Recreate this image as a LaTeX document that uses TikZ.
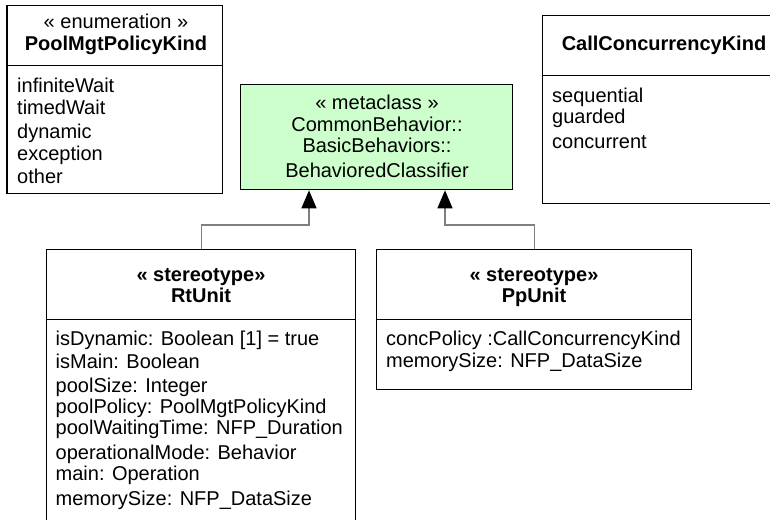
\documentclass[tikz,border=0pt]{standalone}
\usepackage{fontspec}
\setmainfont{Liberation Sans}
\usetikzlibrary{arrows.meta}
\definecolor{metagreen}{HTML}{CCFFCC}
\definecolor{conngray}{HTML}{7F7F7F}
\begin{document}
\begin{tikzpicture}[x=1pt,y=-1pt,
  umlbox/.style={draw=black, line width=1.3pt, inner sep=0pt, anchor=north west},
  divider/.style={draw=black, line width=1pt},
  txt/.style={font=\fontsize{20}{23}\selectfont, inner sep=0pt},
  attr/.style={txt, anchor=base west},
  head/.style={txt, anchor=base},
  headb/.style={anchor=base, inner sep=0pt, font=\fontsize{20}{23}\selectfont\bfseries},
  conn/.style={draw=conngray, line width=1.3pt},
  gen/.style={-{Triangle[width=15pt,length=18pt,black]}}]
\useasboundingbox (0,0) rectangle (770,519);
\fill[white] (0,0) rectangle (770,519);

% boxes
\node[umlbox, minimum width=215.6pt, minimum height=188pt] (pool) at (6.4,4.7) {};
\node[umlbox, fill=metagreen, minimum width=272pt, minimum height=105pt] (meta) at (240,84) {};
\node[umlbox, minimum width=244pt, minimum height=188pt] (call) at (542,15) {};
\node[umlbox, minimum width=309pt, minimum height=300pt] (rt) at (46,249) {};
\node[umlbox, minimum width=315pt, minimum height=140pt] (pp) at (376,249) {};

% dividers
\draw[divider] (pool.west |- 0,65) -- (pool.east |- 0,65);
\draw[divider] (call.west |- 0,75) -- (call.east |- 0,75);
\draw[divider] (rt.west |- 0,319) -- (rt.east |- 0,319);
\draw[divider] (pp.west |- 0,319) -- (pp.east |- 0,319);

% PoolMgtPolicyKind
\node[head] (poolst) at (116,29) {« enumeration »};
\node[headb] (poolname) at (116,50) {PoolMgtPolicyKind};
\foreach \yy/\t [count=\i] in {92/infiniteWait, 114/timedWait, 138/dynamic, 160/exception, 183/other}
  \node[attr] (poolitem\i) at (17,\yy) {\t};

% metaclass
\node[head] (metast) at (377,109) {« metaclass »};
\node[head] (meta1) at (377,131) {CommonBehavior::};
\node[head] (meta2) at (377,152) {BasicBehaviors::};
\node[head] (meta3) at (377,177) {BehavioredClassifier};

% CallConcurrencyKind
\node[headb] (callname) at (664,50) {CallConcurrencyKind};
\foreach \yy/\t [count=\i] in {102/sequential, 123/guarded, 148/concurrent}
  \node[attr] (callitem\i) at (552,\yy) {\t};

% RtUnit
\node[headb] (rtst) at (201,281) {« stereotype»};
\node[headb] (rtname) at (201,302) {RtUnit};
\foreach \yy/\t [count=\i] in {345/{isDynamic: Boolean [1] = true}, 368/{isMain: Boolean},
    392/{poolSize: Integer}, 413/{poolPolicy: PoolMgtPolicyKind},
    434/{poolWaitingTime: NFP\_Duration}, 459/{operationalMode: Behavior},
    480/{main: Operation}, 505/{memorySize: NFP\_DataSize}}
  \node[attr] (rtattr\i) at (55.5,\yy) {\t};

% PpUnit
\node[headb] (ppst) at (534,281) {« stereotype»};
\node[headb] (ppname) at (534,302) {PpUnit};
\node[attr] (ppattr1) at (386,345) {concPolicy :CallConcurrencyKind};
\node[attr] (ppattr2) at (386,367) {memorySize: NFP\_DataSize};

% generalizations
\draw[conn, gen] (rt.north) |- (309,225) -- (meta.south -| 309,0);
\draw[conn, gen] (pp.north) |- (445,225) -- (meta.south -| 445,0);
\end{tikzpicture}
\end{document}
